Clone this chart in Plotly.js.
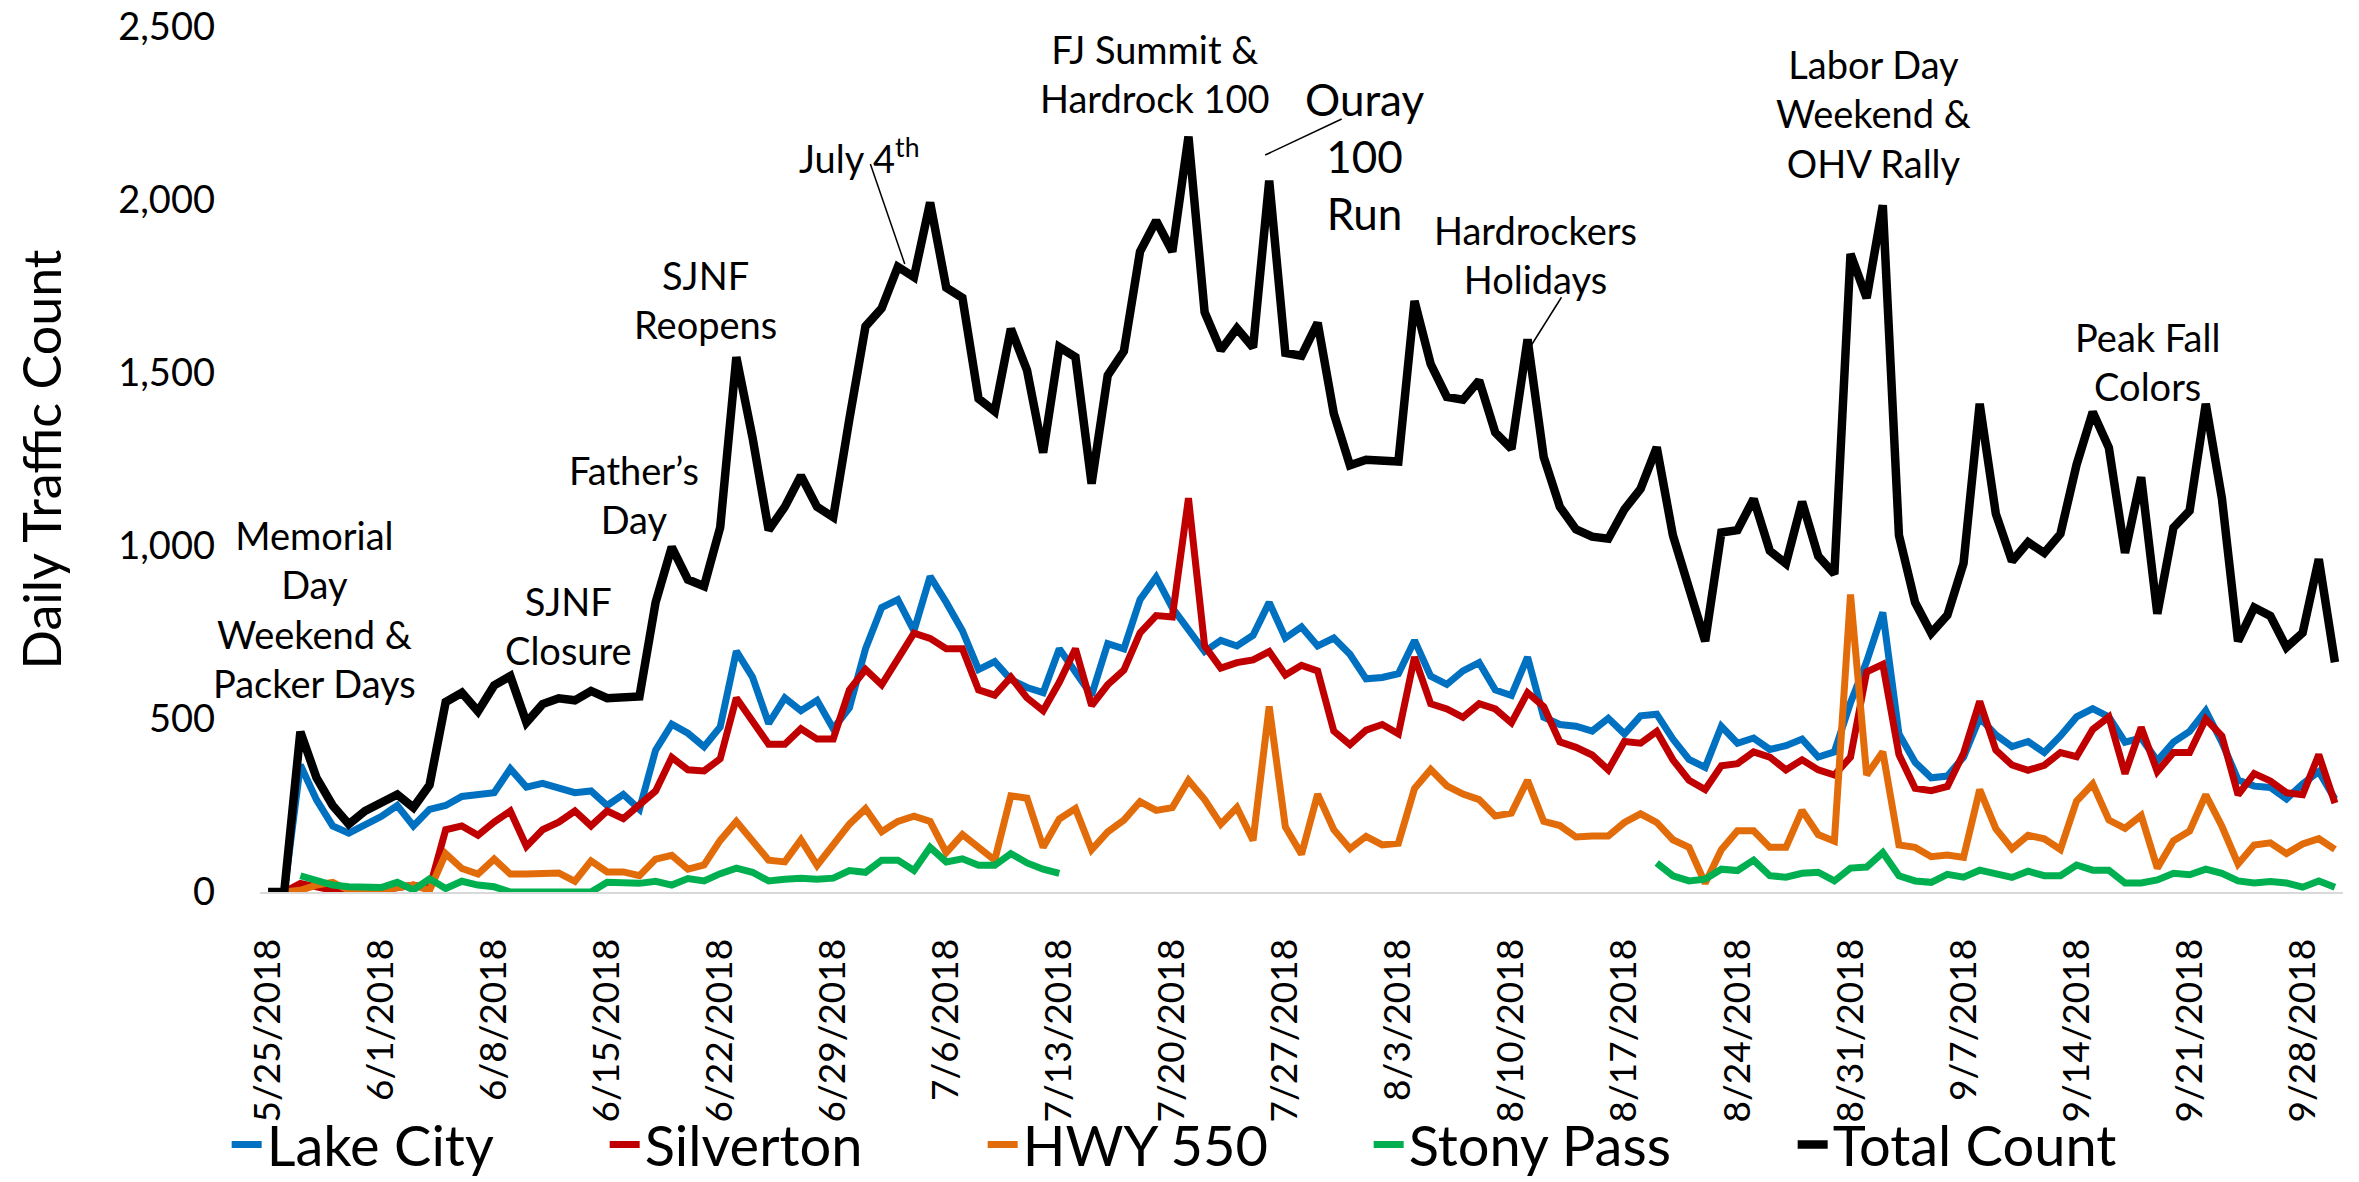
<!DOCTYPE html>
<html>
<head>
<meta charset="utf-8">
<script src="https://cdn.plot.ly/plotly-3.0.1.min.js"></script>
<style>
  html, body { margin: 0; padding: 0; background: #fff; }
  #chart { width: 2359px; height: 1182px; }
</style>
</head>
<body>
<div id="chart"></div>
<script>
//Daily counts from 5/25/2018 (index 0) to 9/30/2018 (index 128)
var lakeCity = [null, 0, 367, 266, 191, 170, 196, 218, 250, 191, 239, 250, 276, 282, 287, 356, 303, 314, 298, 287,
  292, 250, 282, 239, 410, 485, 459, 420, 477, 696, 621, 487, 561, 524, 554, 472, 532, 703, 822, 845,
  755, 912, 837, 755, 643, 666, 614, 591, 576, 703, 636, 569, 718, 703, 845, 910, 821, 758, 695, 727,
  711, 742, 837, 734, 766, 711, 734, 687, 616, 620, 631, 727, 624, 600, 639, 663, 584, 568, 679, 505,
  484, 479, 465, 502, 457, 509, 514, 442, 383, 360, 479, 430, 445, 412, 423, 442, 390, 405, 547, 666,
  808, 457, 375, 330, 335, 390, 504, 454, 420, 435, 403, 451, 506, 530, 506, 433, 445, 379, 433, 464,
  524, 433, 324, 306, 302, 269, 312, 348, 269];

var silverton = [null, 0, 25, 15, 5, 5, 10, 5, 15, 20, 10, 180, 191, 164, 202, 234, 132, 180, 202, 234,
  191, 234, 212, 255, 292, 389, 353, 350, 385, 561, 494, 427, 427, 472, 442, 442, 584, 643, 599, 673,
  748, 733, 703, 703, 584, 569, 621, 561, 524, 606, 703, 539, 599, 641, 749, 799, 795, 1138, 711, 647,
  663, 671, 695, 627, 655, 639, 465, 426, 468, 484, 457, 679, 544, 529, 505, 544, 529, 489, 576, 536,
  434, 418, 396, 353, 435, 430, 464, 382, 323, 296, 365, 371, 405, 390, 353, 382, 353, 338, 390, 636,
  658, 397, 300, 293, 305, 401, 551, 410, 367, 352, 366, 403, 391, 470, 506, 342, 476, 348, 403, 403,
  500, 451, 281, 342, 321, 287, 281, 397, 257];

var hwy550 = [null, 0, 5, 20, 28, 5, 0, 5, 10, 20, 5, 111, 68, 52, 95, 52, 52, 52, 55, 31,
  90, 58, 58, 47, 95, 106, 66, 78, 149, 204, 151, 92, 87, 151, 77, 136, 196, 241, 174, 204,
  219, 204, 114, 166, 129, 92, 278, 271, 129, 211, 241, 122, 174, 208, 261, 236, 244, 323, 267, 196,
  244, 149, 536, 188, 109, 283, 180, 125, 161, 136, 141, 299, 354, 307, 283, 267, 220, 228, 323, 204,
  192, 159, 162, 162, 201, 226, 201, 151, 129, 25, 122, 177, 177, 129, 129, 236, 166, 147, 860, 338,
  405, 136, 129, 102, 107, 100, 296, 183, 125, 164, 154, 123, 263, 312, 208, 184, 221, 69, 148, 176,
  281, 190, 81, 136, 142, 111, 139, 154, 123];

var stonyPass = [null, null, 47, 31, 20, 15, 15, 13, 28, 6, 38, 10, 31, 20, 15, 0, 0, 0, 0, 0,
  0, 28, 25, 25, 31, 20, 39, 32, 53, 69, 57, 32, 37, 40, 37, 40, 62, 57, 92, 92,
  62, 129, 87, 96, 77, 77, 111, 84, 66, 54, null, null, null, null, null, null, null, null, null, null,
  null, null, null, null, null, null, null, null, null, null, null, null, null, null, null, null, null, null, null, null,
  null, null, null, null, null, null, 84, 47, 32, 37, 66, 62, 92, 47, 43, 54, 57, 32, 69, 72,
  114, 47, 32, 28, 51, 43, 63, 54, 42, 60, 47, 47, 78, 63, 63, 26, 26, 35, 54, 50,
  66, 54, 32, 26, 30, 26, 14, 32, 14];

var totalCount = [0, 0, 463, 330, 250, 196, 234, 255, 282, 244, 309, 549, 576, 522, 597, 624, 490, 543, 560, 554,
  581, 560, 565, 565, 837, 997, 903, 884, 1054, 1546, 1314, 1046, 1113, 1203, 1113, 1083, 1367, 1635, 1687, 1807,
  1777, 1993, 1747, 1717, 1426, 1389, 1628, 1508, 1270, 1575, 1546, 1180, 1493, 1563, 1851, 1940, 1851, 2183, 1676, 1566,
  1629, 1574, 2056, 1558, 1550, 1645, 1383, 1233, 1249, 1244, 1244, 1708, 1526, 1431, 1423, 1478, 1328, 1281, 1597, 1257,
  1113, 1048, 1027, 1021, 1106, 1165, 1285, 1031, 875, 725, 1039, 1046, 1136, 986, 949, 1128, 971, 919, 1844, 1717,
  1985, 1031, 837, 748, 800, 950, 1411, 1093, 956, 1011, 980, 1035, 1235, 1387, 1284, 980, 1199, 804, 1053, 1102,
  1411, 1138, 725, 822, 798, 707, 749, 962, 664];

var tickDates = ['2018-05-25', '2018-06-01', '2018-06-08', '2018-06-15', '2018-06-22', '2018-06-29',
  '2018-07-06', '2018-07-13', '2018-07-20', '2018-07-27', '2018-08-03', '2018-08-10', '2018-08-17',
  '2018-08-24', '2018-08-31', '2018-09-07', '2018-09-14', '2018-09-21', '2018-09-28'];
var tickLabels = ['5/25/2018', '6/1/2018', '6/8/2018', '6/15/2018', '6/22/2018', '6/29/2018',
  '7/6/2018', '7/13/2018', '7/20/2018', '7/27/2018', '8/3/2018', '8/10/2018', '8/17/2018',
  '8/24/2018', '8/31/2018', '9/7/2018', '9/14/2018', '9/21/2018', '9/28/2018'];

//Event notes: [day offset from 5/25, count, text]
var notes = [
  [2.85, 817, 'Memorial<br>Day<br>Weekend &<br>Packer Days'],
  [18.6, 771, 'SJNF<br>Closure'],
  [22.65, 1149, 'Father’s<br>Day'],
  [27.1, 1713, 'SJNF<br>Reopens'],
  [36.6, 2128, 'July 4<sup>th</sup>'],
  [54.95, 2366, 'FJ Summit &<br>Hardrock 100'],
  [67.9, 2128, 'Ouray<br>100<br>Run'],
  [78.5, 1842, 'Hardrockers<br>Holidays'],
  [99.4, 2249, 'Labor Day<br>Weekend &<br>OHV Rally'],
  [116.4, 1533, 'Peak Fall<br>Colors']
];
//Leader lines: [day0, count0, day1, count1]
var leaders = [
  [37.3, 2104, 39.43, 1815],
  [66.49, 2234, 61.75, 2130],
  [80.1, 1719, 78.03, 1565]
];

function dayToDate(offset) {
  var t = Date.UTC(2018, 4, 25) + offset * 86400000;
  return new Date(t).toISOString().replace('T', ' ').slice(0, 19);
}

var dates = [];
for (var i = 0; i < totalCount.length; i++) {
  dates.push(dayToDate(i).slice(0, 10));
}

var FONT = 'Lato, "Open Sans", sans-serif';

function series(name, y, color, width, legendWidth) {
  return {
    x: dates, y: y, name: name,
    type: 'scatter', mode: 'lines',
    line: {color: color, width: width},
    connectgaps: false,
    legendwidth: legendWidth
  };
}

var data = [
  series('Lake City', lakeCity, '#0070C0', 7, 333),
  series('Silverton', silverton, '#C00000', 7, 333),
  series('HWY 550', hwy550, '#E36C0A', 7, 341),
  series('Stony Pass', stonyPass, '#00B050', 7, 379),
  series('Total Count', totalCount, '#000000', 8.5, 310)
];

var annotations = notes.map(function (n) {
  return {
    x: dayToDate(n[0]), y: n[1], xref: 'x', yref: 'y',
    text: n[2], showarrow: false,
    xanchor: 'center', yanchor: 'middle',
    font: {family: FONT, size: n[2].indexOf('Ouray') === 0 ? 44 : 38, color: '#000'}
  };
});

var shapes = leaders.map(function (l) {
  return {
    type: 'line', xref: 'x', yref: 'y',
    x0: dayToDate(l[0]), y0: l[1], x1: dayToDate(l[2]), y1: l[3],
    line: {color: '#000', width: 1.5}
  };
});

var layout = {
  width: 2359, height: 1182,
  margin: {l: 260, r: 16, t: 27, b: 290, autoexpand: false},
  paper_bgcolor: '#fff', plot_bgcolor: '#fff',
  font: {family: FONT, color: '#000'},
  showlegend: true,
  legend: {
    orientation: 'h', x: -0.016, xanchor: 'left', y: -0.292, yanchor: 'middle',
    font: {family: FONT, size: 56, color: '#000'},
    borderwidth: 0, bgcolor: 'rgba(0,0,0,0)'
  },
  xaxis: {
    type: 'date',
    range: [dayToDate(-0.5), dayToDate(128.5)],
    tickmode: 'array', tickvals: tickDates, ticktext: tickLabels,
    tickangle: -90, tickfont: {family: FONT, size: 37, color: '#000'},
    ticklabelstandoff: 30,
    showgrid: false, zeroline: false,
    showline: true, linecolor: '#D9D9D9', linewidth: 2,
    ticks: '', layer: 'below traces'
  },
  yaxis: {
    range: [0, 2500], tickvals: [0, 500, 1000, 1500, 2000, 2500],
    tickformat: ',d', tickfont: {family: FONT, size: 38, color: '#000'},
    ticklabelstandoff: 44,
    showgrid: false, zeroline: false, showline: false, ticks: '',
    title: {text: 'Daily Traffic Count', font: {family: FONT, size: 52, color: '#000'}, standoff: 40}
  },
  annotations: annotations,
  shapes: shapes
};

Plotly.newPlot('chart', data, layout, {staticPlot: true});
</script>
</body>
</html>
